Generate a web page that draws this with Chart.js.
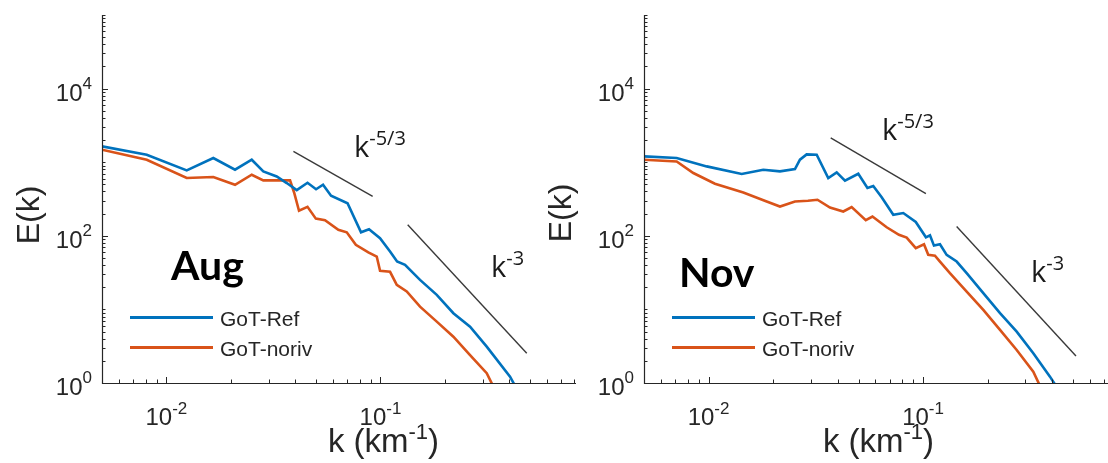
<!DOCTYPE html>
<html>
<head>
<meta charset="utf-8">
<script src="https://cdn.jsdelivr.net/npm/chart.js@4.4.1/dist/chart.umd.min.js"></script>
<style>
  html, body { margin: 0; padding: 0; background: #ffffff; overflow: hidden; }
  #wrap { position: relative; width: 1108px; height: 463px; background: #ffffff; }
  #wrap canvas { position: absolute; left: 0; top: 0; }
</style>
</head>
<body>
<div id="wrap">
  <canvas id="aug" width="1108" height="463"></canvas>
  <canvas id="nov" width="1108" height="463"></canvas>
</div>
<script>
// ---------------- DATA ----------------
const seriesNames = ['GoT-Ref', 'GoT-noriv'];

// August, GoT-Ref
const augRefK = [0.005, 0.00809, 0.01244, 0.01656, 0.02092, 0.02504, 0.02836, 0.03276, 0.03649, 0.04064,
                 0.04563, 0.05002, 0.05393, 0.05878, 0.0702, 0.08115, 0.08844, 0.09956, 0.1109, 0.1196,
                 0.1303, 0.1531, 0.1833, 0.2192, 0.2623, 0.3138, 0.4033, 0.449];
const augRefE = [1641, 1265, 773, 1140, 791, 1081, 750, 641, 521, 418,
                 526, 429, 494, 350, 277, 111.6, 122.6, 93, 61.1, 44.7,
                 40.3, 25.2, 15.75, 8.88, 5.83, 3.12, 1.22, 0.687];

// August, GoT-noriv
const augNorivK = [0.005, 0.00809, 0.01244, 0.01656, 0.02092, 0.02504, 0.02836, 0.03781, 0.03947, 0.04164,
                   0.04563, 0.0499, 0.05509, 0.06357, 0.06959, 0.07674, 0.0878, 0.0961, 0.0996, 0.1109,
                   0.1192, 0.1327, 0.1531, 0.1833, 0.2192, 0.2623, 0.3138, 0.3469];
const augNorivE = [1480, 1081, 610, 629, 494, 676, 566, 569, 391, 219,
                   248, 171, 162.5, 120.7, 111.6, 75.4, 59.6, 52.3, 33.4, 32.4,
                   21.5, 17.5, 10.9, 6.82, 4.26, 2.4, 1.36, 0.754];

// November, GoT-Ref
const novRefK = [0.005, 0.0071, 0.0098, 0.01427, 0.01799, 0.02152, 0.02528, 0.02667, 0.02866, 0.03192,
                 0.03614, 0.03956, 0.04324, 0.04988, 0.05505, 0.05859, 0.06412, 0.07263, 0.08085, 0.09247,
                 0.1031, 0.1077, 0.1124, 0.1199, 0.1288, 0.1434, 0.1597, 0.1909, 0.2284, 0.2732,
                 0.3265, 0.3905, 0.4346];
const novRefE = [1199, 1140, 877, 691, 791, 750, 808, 1081, 1277, 1265,
                 610, 726, 560, 697, 446, 475, 334, 193, 204, 154,
                 95.4, 101.6, 73.6, 76.6, 55.1, 44.7, 31.1, 16.6, 8.88, 4.99,
                 2.54, 1.22, 0.754];

// November, GoT-noriv
const novNorivK = [0.005, 0.0071, 0.00849, 0.01071, 0.01452, 0.01866, 0.02152, 0.02528, 0.02906, 0.03219,
                   0.03681, 0.04246, 0.04646, 0.05406, 0.05808, 0.06766, 0.0772, 0.08385, 0.09247, 0.101,
                   0.1057, 0.1136, 0.1199, 0.1334, 0.1597, 0.1909, 0.2284, 0.2732, 0.3265, 0.3583];
const novNorivE = [1081, 1025, 713, 510, 388, 293, 250, 293, 299, 309,
                   242, 214, 246, 163.5, 183, 130.5, 103.2, 94.5, 68, 76.6,
                   55.1, 53.8, 44.7, 31.1, 17.5, 9.84, 5.26, 2.81, 1.42, 0.803];

// Reference slope segments (two end points each)
const augSlope53K = [0.0392, 0.092];
const augSlope53E = [1403, 343];
const augSlope3K  = [0.1341, 0.4827];
const augSlope3E  = [141, 2.54];
const novSlope53K = [0.0371, 0.1031];
const novSlope53E = [2135, 373];
const novSlope3K  = [0.1434, 0.5162];
const novSlope3E  = [134, 2.33];

// Axis ticks
const yTickValues = [1, 100, 10000];
const yTickExps   = ['0', '2', '4'];
const xTickValues = [0.01, 0.1];
const xTickExps   = ['-2', '-1'];

// ---------------- STYLE ----------------
const BLUE = '#0072BD';
const ORANGE = '#D95319';
const AXIS = '#262626';
const SANS = '"Liberation Sans", Arial, Helvetica, sans-serif';

function pts(k, e) { return k.map((x, i) => ({ x: x, y: e[i] })); }

function drawPow(ctx, base, exp, x, y, align, bs, ss, raise, font) {
  ctx.font = bs + 'px ' + font;
  const wb = ctx.measureText(base).width;
  ctx.font = ss + 'px ' + font;
  const ws = ctx.measureText(exp).width;
  const tot = wb + ws;
  let sx = x;
  if (align === 'right') sx = x - tot;
  else if (align === 'center') sx = x - tot / 2;
  ctx.textAlign = 'left';
  ctx.textBaseline = 'alphabetic';
  ctx.font = bs + 'px ' + font;
  ctx.fillText(base, sx, y);
  ctx.font = ss + 'px ' + font;
  ctx.fillText(exp, sx + wb, y - raise);
  return sx + tot;
}

function panelPlugin(p) {
  return {
    id: 'panelDecor',
    afterDatasetsDraw(chart) {
      const ctx = chart.ctx;
      const xs = chart.scales.x, ys = chart.scales.y, a = chart.chartArea;
      ctx.save();
      // axes lines
      ctx.strokeStyle = AXIS;
      ctx.lineWidth = 1.2;
      ctx.beginPath();
      ctx.moveTo(a.left + 0.5, a.top);
      ctx.lineTo(a.left + 0.5, a.bottom + 0.5);
      ctx.lineTo(a.right, a.bottom + 0.5);
      ctx.stroke();
      // y ticks (inward)
      ctx.lineWidth = 1;
      ctx.beginPath();
      for (let d = 0; d <= 5; d++) {
        for (let m = 1; m <= 9; m++) {
          const v = m * Math.pow(10, d);
          if (v > ys.max * 1.0001) break;
          const py = Math.round(ys.getPixelForValue(v)) + 0.5;
          const len = (m === 1 && d % 2 === 0) ? 6 : 3.5;
          ctx.moveTo(a.left, py);
          ctx.lineTo(a.left + len, py);
        }
      }
      // x ticks (inward)
      for (let d = -3; d <= 0; d++) {
        for (let m = 1; m <= 9; m++) {
          const v = m * Math.pow(10, d);
          if (v < xs.min * 0.9999 || v > xs.max * 1.0001) continue;
          const px = Math.round(xs.getPixelForValue(v)) + 0.5;
          const len = (m === 1) ? 6 : 3.5;
          ctx.moveTo(px, a.bottom);
          ctx.lineTo(px, a.bottom - len);
        }
      }
      ctx.stroke();
      // tick labels
      ctx.fillStyle = AXIS;
      yTickValues.forEach((v, i) => {
        const py = ys.getPixelForValue(v);
        drawPow(ctx, '10', yTickExps[i], a.left - 10, py + 12, 'right', 24, 17, 12, SANS);
      });
      xTickValues.forEach((v, i) => {
        const px = xs.getPixelForValue(v);
        drawPow(ctx, '10', xTickExps[i], px, a.bottom + 42, 'center', 24, 17, 11.5, SANS);
      });
      // x title: k (km^-1)
      ctx.font = '33px ' + SANS;
      const w1 = ctx.measureText('k (km').width;
      const w3 = ctx.measureText(')').width;
      ctx.font = '22px ' + SANS;
      const w2 = ctx.measureText('-1').width;
      let sx = p.xTitleCenter - (w1 + w2 + w3) / 2;
      const end = drawPow(ctx, 'k (km', '-1', sx, 452, 'left', 33, 22, 13, SANS);
      ctx.font = '33px ' + SANS;
      ctx.fillText(')', end, 452);
      // y title
      ctx.save();
      ctx.translate(p.yTitleX, p.yTitleY);
      ctx.rotate(-Math.PI / 2);
      ctx.font = '32px ' + SANS;
      ctx.textAlign = 'center';
      ctx.textBaseline = 'middle';
      ctx.fillText('E(k)', 0, 0);
      ctx.restore();
      // panel label
      ctx.fillStyle = '#000000';
      ctx.font = 'bold 41px Lato, "Open Sans", sans-serif';
      ctx.textAlign = 'left';
      ctx.textBaseline = 'alphabetic';
      ctx.fillText(p.label, p.labelX, p.labelY);
      // slope annotations
      ctx.fillStyle = '#1a1a1a';
      p.notes.forEach(n => {
        drawPow(ctx, 'k', n.exp, n.x, n.y, 'left', 29, 20, 12, '"Open Sans", sans-serif');
      });
      // legend
      const ds = chart.data.datasets;
      [0, 1].forEach(i => {
        const ly = p.legendY[i];
        ctx.strokeStyle = ds[i].borderColor;
        ctx.lineWidth = 3;
        ctx.beginPath();
        ctx.moveTo(p.legendX0, ly);
        ctx.lineTo(p.legendX1, ly);
        ctx.stroke();
        ctx.fillStyle = AXIS;
        ctx.font = '21px ' + SANS;
        ctx.textAlign = 'left';
        ctx.textBaseline = 'alphabetic';
        ctx.fillText(ds[i].label, p.legendX1 + 7, ly + 8.5);
      });
      ctx.restore();
    }
  };
}

function makeChart(id, refK, refE, norK, norE, s53K, s53E, s3K, s3E, xmax, padding, p) {
  const seg = { borderColor: '#3a3a3a', borderWidth: 1.4, pointRadius: 0, fill: false, tension: 0, clip: 0 };
  return new Chart(document.getElementById(id), {
    type: 'line',
    data: {
      datasets: [
        { label: seriesNames[0], data: pts(refK, refE), borderColor: BLUE, borderWidth: 2.6,
          pointRadius: 0, fill: false, tension: 0, clip: 0, order: 1 },
        { label: seriesNames[1], data: pts(norK, norE), borderColor: ORANGE, borderWidth: 2.6,
          pointRadius: 0, fill: false, tension: 0, clip: 0, order: 2 },
        Object.assign({ label: 'k^-5/3', data: pts(s53K, s53E) }, seg),
        Object.assign({ label: 'k^-3', data: pts(s3K, s3E) }, seg)
      ]
    },
    options: {
      responsive: false,
      animation: false,
      devicePixelRatio: 1,
      layout: { padding: padding },
      plugins: { legend: { display: false }, tooltip: { enabled: false } },
      scales: {
        x: { type: 'logarithmic', min: 0.005, max: xmax, display: false },
        y: { type: 'logarithmic', min: 1, max: 100000, display: false }
      }
    },
    plugins: [panelPlugin(p)]
  });
}

makeChart('aug', augRefK, augRefE, augNorivK, augNorivE,
  augSlope53K, augSlope53E, augSlope3K, augSlope3E, 0.82,
  { left: 102, top: 15, right: 532, bottom: 80 },
  { xTitleCenter: 383.5, yTitleX: 30, yTitleY: 215, label: 'Aug', labelX: 171, labelY: 280,
    legendX0: 130, legendX1: 213, legendY: [317.5, 347.5],
    notes: [ { exp: '-5/3', x: 354, y: 157 }, { exp: '-3', x: 491, y: 277 } ] });

makeChart('nov', novRefK, novRefE, novNorivK, novNorivE,
  novSlope53K, novSlope53E, novSlope3K, novSlope3E, 0.728,
  { left: 644, top: 15, right: 0, bottom: 80 },
  { xTitleCenter: 878.5, yTitleX: 562, yTitleY: 213, label: 'Nov', labelX: 679, labelY: 287,
    legendX0: 672, legendX1: 755, legendY: [317.5, 347.5],
    notes: [ { exp: '-5/3', x: 882, y: 140 }, { exp: '-3', x: 1031, y: 282 } ] });
</script>
</body>
</html>
